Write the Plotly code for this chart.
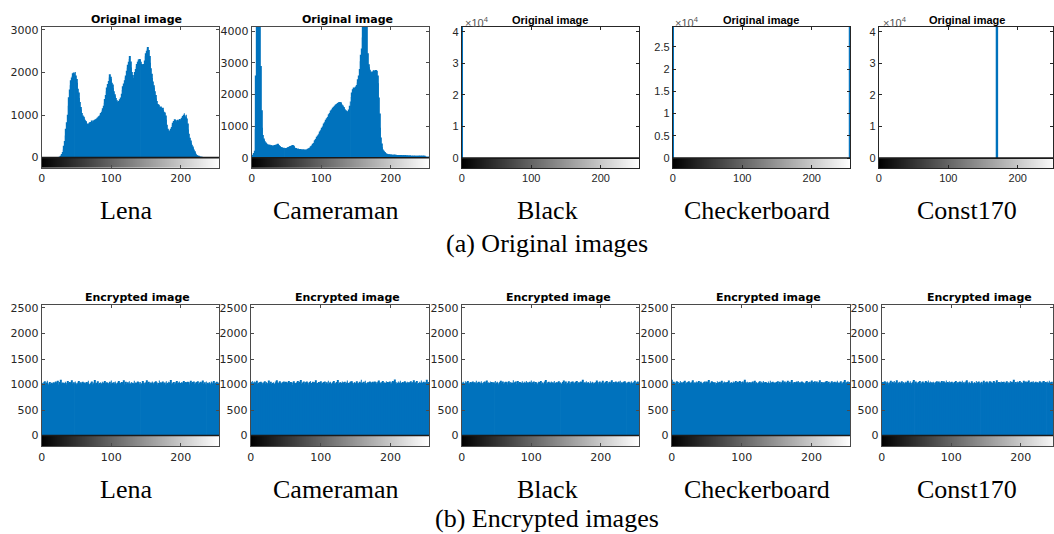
import plotly.graph_objects as go

# ---------------- data ----------------
gray_levels = list(range(256))
x_ticks = [0, 100, 200]

lena_counts = [
    0, 0, 0, 0, 0, 0, 0, 0, 0, 0, 0, 0, 0, 0, 0, 0,
    0, 0, 0, 0, 0, 0, 0, 0, 0, 5, 15, 30, 55, 85, 130, 190,
    280, 390, 520, 680, 830, 1010, 1220, 1420, 1600, 1700, 1820, 1880, 1920, 1980, 2000, 1970,
    2010, 1930, 1850, 1760, 1620, 1530, 1400, 1310, 1190, 1130, 1050, 990, 960, 920, 890, 860,
    840, 800, 790, 810, 780, 830, 800, 840, 870, 830, 880, 860, 890, 910, 880, 920,
    950, 930, 970, 990, 1020, 1050, 1080, 1120, 1160, 1220, 1290, 1380, 1470, 1560, 1650, 1730,
    1800, 1880, 1960, 1900, 1850, 1760, 1720, 1630, 1560, 1490, 1440, 1400, 1350, 1310, 1290, 1330,
    1370, 1320, 1410, 1500, 1590, 1680, 1740, 1820, 1880, 1930, 2040, 2110, 2180, 2250, 2320, 2390,
    2260, 2120, 2010, 1940, 1870, 1900, 2010, 2080, 2140, 2200, 2250, 2310, 2280, 2320, 2290, 2250,
    2200, 2180, 2150, 2200, 2280, 2380, 2450, 2510, 2560, 2600, 2530, 2390, 2230, 2100, 1970, 1870,
    1790, 1700, 1640, 1560, 1470, 1390, 1330, 1260, 1240, 1200, 1160, 1200, 1180, 1130, 1170, 1120,
    1080, 1060, 990, 890, 770, 680, 630, 640, 620, 650, 680, 720, 770, 820, 860, 900,
    870, 880, 850, 870, 890, 860, 880, 910, 880, 920, 940, 980, 1010, 1040, 990, 950,
    1010, 920, 800, 660, 560, 470, 400, 350, 300, 260, 220, 190, 150, 120, 90, 65,
    45, 30, 20, 12, 8, 4, 2, 0, 0, 0, 0, 0, 0, 0, 0, 0,
    0, 0, 0, 0, 0, 0, 0, 0, 0, 0, 0, 0, 0, 0, 0, 0,
]

cameraman_counts = [
    60, 90, 120, 150, 220, 900, 2600, 4600, 6800, 8200, 8900, 7600, 5200, 2900, 1500, 950,
    720, 610, 560, 520, 480, 460, 440, 420, 410, 400, 410, 390, 400, 380, 390, 370,
    390, 400, 380, 410, 420, 440, 430, 400, 370, 350, 340, 330, 320, 310, 320, 300,
    310, 300, 310, 320, 330, 340, 350, 360, 370, 380, 390, 400, 380, 350, 320, 310,
    300, 290, 280, 290, 280, 270, 275, 270, 260, 265, 255, 260, 250, 255, 250, 260,
    270, 285, 300, 320, 340, 360, 385, 410, 440, 470, 510, 550, 590, 620, 660, 700,
    740, 780, 830, 870, 910, 950, 990, 1030, 1080, 1120, 1160, 1200, 1250, 1290, 1330, 1370,
    1410, 1450, 1490, 1520, 1540, 1580, 1610, 1640, 1660, 1680, 1700, 1720, 1730, 1750, 1740, 1760,
    1750, 1720, 1680, 1650, 1600, 1560, 1530, 1500, 1480, 1470, 1460, 1470, 1520, 1640, 1780, 1920,
    2060, 2160, 2190, 2220, 2200, 2230, 2250, 2300, 2380, 2480, 2600, 2800, 3050, 3250, 3450, 3800,
    4300, 4900, 5400, 5800, 5900, 5200, 4300, 3300, 2950, 2860, 2780, 2720, 2700, 2680, 2720, 2750,
    2760, 2740, 2770, 2760, 2750, 2600, 2350, 1900, 1400, 950, 640, 450, 330, 260, 220, 180,
    160, 140, 130, 120, 115, 110, 105, 100, 100, 98, 96, 97, 95, 93, 94, 92,
    90, 91, 89, 88, 86, 87, 85, 84, 82, 83, 80, 79, 78, 77, 76, 75,
    74, 72, 70, 69, 68, 66, 65, 63, 62, 60, 58, 57, 55, 53, 52, 50,
    48, 46, 44, 42, 40, 38, 36, 34, 32, 30, 28, 26, 24, 22, 20, 18,
]

# sparse histograms (only non-empty bins)
black_levels = [0]
black_counts = [262144]
checker_levels = [0, 255]
checker_counts = [131072, 131072]
const_levels = [170]
const_counts = [262144]

enc_lena_counts = [
    1031, 1012, 1047, 998, 1063, 1021, 1005, 1039, 1076, 1018, 993, 1027, 1052, 1009, 1034, 1001,
    1015, 1044, 987, 1026, 1058, 1011, 1036, 1072, 1003, 1019, 1048, 1095, 1024, 1008, 1041, 996,
    1029, 1016, 1054, 1037, 1002, 1067, 1013, 1028, 1049, 991, 1035, 1084, 1020, 1006, 1043, 1017,
    1061, 1025, 999, 1038, 1014, 1070, 1033, 1004, 1046, 1022, 1010, 1057, 1030, 985, 1040, 1019,
    1008, 1050, 1026, 1073, 1011, 994, 1037, 1021, 1059, 1003, 1042, 1016, 1088, 1027, 1000, 1035,
    1018, 1064, 1007, 1031, 1045, 989, 1023, 1056, 1012, 1039, 1001, 1068, 1025, 1009, 1047, 1032,
    1004, 1028, 1053, 1015, 1079, 1020, 1036, 997, 1044, 1011, 1062, 1026, 1005, 1041, 1018, 1071,
    1033, 990, 1024, 1050, 1013, 1038, 1086, 1002, 1029, 1057, 1017, 1006, 1045, 1022, 1065, 1010,
    1027, 1048, 1003, 1035, 1019, 1074, 1012, 1040, 995, 1030, 1061, 1016, 1043, 1008, 1052, 1025,
    1014, 1069, 1021, 1037, 1001, 1046, 1028, 1083, 1009, 1034, 1055, 1018, 992, 1039, 1023, 1060,
    1036, 1007, 1051, 1024, 1066, 1013, 1042, 1000, 1031, 1077, 1019, 1045, 1004, 1029, 1058, 1015,
    1022, 1040, 996, 1063, 1017, 1032, 1054, 1010, 1047, 1026, 1091, 1006, 1035, 1020, 1049, 1003,
    1044, 1018, 1070, 1027, 1005, 1038, 1059, 1014, 1030, 988, 1046, 1023, 1067, 1011, 1033, 1052,
    1009, 1035, 1057, 1021, 1043, 1002, 1075, 1028, 1016, 1050, 1032, 1062, 1007, 1039, 1019, 1048,
    1030, 1066, 1012, 1041, 997, 1055, 1024, 1037, 1081, 1013, 1029, 1046, 1005, 1058, 1022, 1034,
    1017, 1049, 1026, 1003, 1060, 1038, 1011, 1044, 1071, 1020, 1036, 999, 1053, 1027, 1042, 1015,
]

enc_cameraman_counts = [
    1052, 1024, 1068, 1011, 1039, 1060, 1003, 1045, 1027, 1072, 1016, 1033, 1049, 1008, 1057, 1020,
    1036, 999, 1043, 1026, 1064, 1013, 1050, 1030, 1005, 1041, 1078, 1019, 1035, 1054, 1010, 1028,
    1047, 1021, 1007, 1059, 1032, 1085, 1015, 1040, 1023, 1002, 1066, 1037, 1012, 1048, 1029, 1061,
    1006, 1038, 1055, 1018, 1044, 1027, 1070, 1001, 1034, 1051, 1014, 1042, 993, 1025, 1063, 1031,
    1019, 1046, 1028, 1067, 1009, 1036, 1053, 1022, 1089, 1012, 1040, 1026, 1058, 1004, 1033, 1045,
    1060, 1015, 1037, 1002, 1049, 1071, 1024, 1031, 1010, 1056, 1039, 1018, 1045, 1083, 1023, 1006,
    1029, 1052, 1013, 1041, 1065, 1020, 998, 1036, 1050, 1027, 1062, 1011, 1034, 1047, 1016, 1074,
    1003, 1039, 1057, 1025, 1012, 1044, 1030, 1068, 1019, 1035, 1001, 1052, 1028, 1090, 1014, 1041,
    1048, 1021, 1034, 1061, 1007, 1043, 1026, 1054, 1017, 1038, 1079, 1009, 1032, 1046, 1022, 1058,
    1011, 1066, 1028, 1000, 1051, 1035, 1019, 1045, 1063, 1024, 1037, 1013, 1056, 1030, 1093, 1018,
    1040, 1026, 1053, 1015, 1072, 1031, 1005, 1047, 1022, 1038, 1060, 1016, 1044, 1029, 1003, 1055,
    1034, 1062, 1020, 1043, 1009, 1057, 1027, 1081, 1014, 1039, 1025, 1050, 1006, 1067, 1032, 1046,
    1018, 1037, 1064, 1024, 1048, 1002, 1035, 1059, 1021, 1044, 1012, 1070, 1028, 1053, 1097, 1026,
    1045, 1011, 1033, 1058, 1019, 1041, 1076, 1008, 1036, 1024, 1052, 1031, 1065, 1015, 1042, 1027,
    1057, 1022, 1046, 1004, 1038, 1063, 1029, 1050, 1013, 1086, 1034, 1020, 1047, 1025, 1069, 1010,
    1032, 1054, 1017, 1042, 1078, 1026, 1040, 1009, 1055, 1030, 1046, 1021, 1094, 1035, 1012, 1049,
]

enc_black_counts = [
    1041, 1019, 1055, 1032, 1008, 1064, 1026, 1047, 1013, 1070, 1022, 1038, 996, 1051, 1029, 1017,
    1060, 1034, 1010, 1045, 1027, 1073, 1004, 1039, 1056, 1021, 1042, 1015, 1066, 1030, 1002, 1048,
    1025, 1058, 1037, 1012, 1081, 1028, 1044, 1007, 1035, 1062, 1019, 1050, 1031, 990, 1046, 1023,
    1069, 1014, 1040, 1057, 1026, 1003, 1049, 1033, 1075, 1018, 1036, 1061, 1009, 1043, 1027, 1054,
    1020, 1047, 1001, 1036, 1065, 1024, 1052, 1011, 1039, 1028, 1084, 1016, 1045, 1032, 1059, 1006,
    1037, 1071, 1023, 1048, 1013, 1042, 1029, 1063, 997, 1034, 1055, 1021, 1040, 1068, 1017, 1046,
    1028, 1005, 1053, 1031, 1077, 1019, 1044, 1026, 1060, 1010, 1038, 1049, 1024, 1002, 1057, 1035,
    1050, 1022, 1067, 1012, 1041, 1033, 1006, 1058, 1029, 1087, 1015, 1043, 1026, 1054, 1031, 1018,
    1039, 1062, 1016, 1045, 1024, 1070, 1003, 1036, 1052, 1020, 1044, 1011, 1065, 1030, 1047, 1025,
    1013, 1049, 1033, 1080, 1021, 1040, 1058, 1008, 1035, 1026, 1063, 1017, 1046, 1000, 1053, 1038,
    1061, 1027, 1042, 1015, 1056, 1032, 1071, 1019, 1043, 1004, 1037, 1059, 1023, 1048, 1092, 1029,
    1007, 1045, 1024, 1064, 1018, 1039, 1051, 1030, 1012, 1066, 1034, 1020, 1055, 1041, 1009, 1036,
    1052, 1016, 1078, 1027, 1043, 1005, 1035, 1060, 1022, 1047, 1031, 1073, 1014, 1038, 1026, 1057,
    1033, 1068, 1021, 1044, 1010, 1054, 1029, 1040, 1085, 1018, 1036, 1050, 1025, 1003, 1062, 1042,
    1019, 1039, 1059, 1026, 1072, 1011, 1046, 1032, 1016, 1053, 1028, 1065, 1037, 1008, 1044, 1030,
    1055, 1024, 1041, 1006, 1063, 1035, 1020, 1049, 1027, 1074, 1014, 1043, 1031, 1058, 1022, 1038,
]

enc_checker_counts = [
    1092, 1036, 1018, 1054, 1027, 1041, 1003, 1063, 1025, 1048, 1012, 1035, 1070, 1020, 1044, 1031,
    1009, 1057, 1029, 1076, 1016, 1039, 1050, 1023, 1065, 1001, 1042, 1030, 1055, 1014, 1083, 1026,
    1047, 1021, 1038, 1060, 1008, 1045, 1032, 1071, 1019, 1037, 1053, 1028, 1006, 1049, 1024, 1062,
    1035, 1013, 1058, 1027, 1044, 1088, 1017, 1040, 1029, 1066, 1010, 1051, 1033, 1022, 1047, 999,
    1030, 1064, 1020, 1043, 1005, 1056, 1036, 1025, 1073, 1015, 1041, 1060, 1028, 1046, 1011, 1039,
    1052, 1026, 1081, 1018, 1037, 1049, 1007, 1034, 1058, 1023, 1045, 1002, 1067, 1031, 1054, 1019,
    1040, 1070, 1024, 1048, 1013, 1036, 1062, 1029, 1096, 1016, 1043, 1027, 1055, 1010, 1038, 1050,
    1021, 1045, 1033, 1006, 1061, 1027, 1040, 1075, 1018, 1052, 1030, 1009, 1047, 1035, 1064, 1024,
    1057, 1012, 1039, 1068, 1026, 1043, 1001, 1050, 1031, 1023, 1059, 1037, 1014, 1072, 1028, 1044,
    1019, 1053, 1030, 1041, 987, 1036, 1048, 1025, 1066, 1010, 1039, 1056, 1022, 1045, 1033, 1079,
    1034, 1008, 1062, 1027, 1050, 1017, 1073, 1029, 1041, 1055, 1015, 1037, 1090, 1024, 1046, 1012,
    1049, 1031, 1020, 1058, 1038, 1069, 1004, 1043, 1026, 1035, 1061, 1018, 1044, 1030, 1007, 1053,
    1025, 1067, 1036, 1014, 1047, 1029, 1056, 1021, 1078, 1039, 1011, 1050, 1033, 1063, 1020, 1042,
    1060, 1023, 1045, 1032, 1085, 1016, 1040, 1052, 1027, 1003, 1046, 1034, 1059, 1019, 1071, 1028,
    1038, 1054, 1009, 1042, 1026, 1064, 1031, 1048, 1013, 1057, 1035, 1022, 1043, 1076, 1017, 1041,
    1029, 1050, 1066, 1021, 1039, 1012, 1055, 1033, 1091, 1025, 1044, 1018, 1060, 1037, 1006, 1048,
]

enc_const_counts = [
    1023, 1051, 1008, 1040, 1066, 1029, 1045, 1014, 1059, 1033, 1002, 1047, 1026, 1072, 1018, 1037,
    1054, 1031, 1069, 1012, 1044, 1027, 1083, 1020, 1038, 1056, 1005, 1042, 1030, 1063, 1016, 1049,
    1035, 1010, 1057, 1028, 1046, 1075, 1019, 1041, 1024, 1064, 1032, 1001, 1053, 1037, 1089, 1015,
    1043, 1061, 1025, 1038, 1007, 1050, 1034, 1068, 1021, 1045, 1013, 1058, 1030, 1040, 1026, 1071,
    1017, 1048, 1033, 1081, 1024, 1039, 1060, 1011, 1044, 1027, 1055, 1036, 996, 1052, 1029, 1065,
    1041, 1022, 1058, 1030, 1047, 1015, 1070, 1026, 1036, 1063, 1009, 1045, 1032, 1077, 1020, 1050,
    1028, 1064, 1011, 1043, 1034, 1056, 1023, 1040, 1005, 1052, 1031, 1067, 1018, 1046, 1038, 1013,
    1060, 1035, 1049, 1020, 1073, 1027, 1044, 1016, 1058, 1033, 1086, 1024, 1041, 1006, 1055, 1030,
    1019, 1042, 1066, 1032, 1008, 1051, 1037, 1025, 1069, 1014, 1046, 1039, 1062, 1021, 1034, 1057,
    1045, 1003, 1036, 1074, 1026, 1048, 1017, 1059, 1031, 1040, 1022, 1065, 1010, 1053, 1028, 1042,
    1030, 1068, 1024, 1047, 1015, 1039, 1082, 1029, 1052, 1007, 1044, 1035, 1061, 1020, 1049, 1033,
    1056, 1018, 1041, 1031, 1063, 1025, 1046, 1002, 1038, 1071, 1027, 1054, 1013, 1040, 1096, 1022,
    1037, 1050, 1014, 1059, 1034, 1043, 1020, 1067, 1029, 1048, 1011, 1036, 1074, 1026, 1045, 1060,
    1012, 1039, 1057, 1023, 1080, 1032, 1047, 1018, 1053, 1035, 1064, 1004, 1042, 1028, 1056, 1030,
    1049, 1026, 1038, 1066, 1016, 1044, 1031, 1058, 1021, 1070, 1037, 1009, 1051, 1033, 1062, 1027,
    1041, 1073, 1019, 1046, 1030, 1055, 1008, 1043, 1035, 1061, 1024, 1088, 1032, 1048, 1014, 1039,
]

image_names = ["Lena", "Cameraman", "Black", "Checkerboard", "Const170"]
row_captions = ["(a) Original images", "(b) Encrypted images"]
panel_titles = ["Original image", "Encrypted image"]

for arr in [lena_counts, cameraman_counts, enc_lena_counts, enc_cameraman_counts,
            enc_black_counts, enc_checker_counts, enc_const_counts]:
    assert len(arr) == 256, len(arr)

# ---------------- layout helpers ----------------
W, H = 1054, 534
BLUE = "#0072BD"
DARK = "#262626"


def px(x):
    return x / W


def py(y):
    return 1 - y / H


DJ = "DejaVu Sans"
LS = "Liberation Sans"

panels = [
    # row 0
    dict(row=0, kind="bar", counts=lena_counts, xd=(38, 216), xr=(0, 255), yr=(-245, 3072),
         yt=[0, 1000, 2000, 3000], ytt=None, font=DJ, tx=133.5, exp=None),
    dict(row=0, kind="bar", counts=cameraman_counts, xd=(249, 427), xr=(0, 255), yr=(-325, 4132),
         yt=[0, 1000, 2000, 3000, 4000], ytt=None, font=DJ, tx=345, exp=None),
    dict(row=0, kind="stem", levels=black_levels, counts=black_counts, xd=(460, 638), xr=(0, 255),
         yr=(-3150, 41575), yt=[0, 10000, 20000, 30000, 40000], ytt=["0", "1", "2", "3", "4"],
         font=LS, tx=549, exp=461),
    dict(row=0, kind="stem", levels=checker_levels, counts=checker_counts, xd=(672, 850), xr=(0, 255),
         yr=(-2250, 29500), yt=[0, 5000, 10000, 15000, 20000, 25000],
         ytt=["0", "0.5", "1", "1.5", "2", "2.5"], font=LS, tx=761, exp=672),
    dict(row=0, kind="stem", levels=const_levels, counts=const_counts, xd=(879, 1054), xr=(0, 250.7),
         yr=(-3150, 41575), yt=[0, 10000, 20000, 30000, 40000], ytt=["0", "1", "2", "3", "4"],
         font=LS, tx=968, exp=881),
    # row 1
    dict(row=1, kind="bar", counts=enc_lena_counts, xd=(38, 216), xr=(0, 255), yr=(-214, 2553),
         yt=[0, 500, 1000, 1500, 2000, 2500], ytt=None, font=DJ, tx=134, exp=None),
    dict(row=1, kind="bar", counts=enc_cameraman_counts, xd=(248, 427), xr=(0, 255), yr=(-214, 2553),
         yt=[0, 500, 1000, 1500, 2000, 2500], ytt=None, font=DJ, tx=345.5, exp=None),
    dict(row=1, kind="bar", counts=enc_black_counts, xd=(460, 638), xr=(0, 255), yr=(-214, 2553),
         yt=[0, 500, 1000, 1500, 2000, 2500], ytt=None, font=DJ, tx=557, exp=None),
    dict(row=1, kind="bar", counts=enc_checker_counts, xd=(671, 850), xr=(0, 255), yr=(-214, 2553),
         yt=[0, 500, 1000, 1500, 2000, 2500], ytt=None, font=DJ, tx=768, exp=None),
    dict(row=1, kind="bar", counts=enc_const_counts, xd=(882, 1054), xr=(0, 246.4), yr=(-214, 2553),
         yt=[0, 500, 1000, 1500, 2000, 2500], ytt=None, font=DJ, tx=980, exp=None),
]

row_box = [(24, 166), (304, 446)]       # top / bottom pixel of each row's axes
title_y = [17, 296]
name_y = [209, 489]
caption_y = [242, 518]
name_x = [122.5, 333.5, 546, 757, 968]

fig = go.Figure()
layout = dict(
    width=W, height=H, autosize=False,
    margin=dict(l=0, r=0, t=0, b=0),
    paper_bgcolor="white", plot_bgcolor="white",
    showlegend=False,
)
annotations = []
shapes = []

for i, p in enumerate(panels, start=1):
    xa = "x" if i == 1 else f"x{i}"
    ya = "y" if i == 1 else f"y{i}"
    xkey = "xaxis" if i == 1 else f"xaxis{i}"
    ykey = "yaxis" if i == 1 else f"yaxis{i}"
    top, bot = row_box[p["row"]]
    lc = "#4a4a4a" if p["font"] == DJ else DARK
    lw = 1.2 if p["font"] == DJ else 1

    # gray-level strip under the histogram
    fig.add_trace(go.Heatmap(
        z=[gray_levels], x=gray_levels, y=[p["yr"][0], 0],
        colorscale=[[0, "#000000"], [1, "#ffffff"]], zmin=0, zmax=255,
        showscale=False, hoverinfo="skip", xaxis=xa, yaxis=ya,
    ))

    if p["kind"] == "bar":
        fig.add_trace(go.Bar(
            x=gray_levels, y=p["counts"], width=1,
            marker=dict(color=BLUE, line=dict(width=0)),
            xaxis=xa, yaxis=ya, hoverinfo="skip",
        ))
    else:
        xs, ys = [], []
        for lev, c in zip(p["levels"], p["counts"]):
            xs += [lev, lev, None]
            ys += [0, c, None]
        fig.add_trace(go.Scatter(
            x=xs, y=ys, mode="lines", line=dict(color=BLUE, width=2.4),
            xaxis=xa, yaxis=ya, hoverinfo="skip",
        ))

    tickfont = dict(family=p["font"], size=11, color=DARK)
    layout[xkey] = dict(
        domain=[px(p["xd"][0]), px(p["xd"][1])], range=list(p["xr"]), anchor=ya,
        tickvals=x_ticks, ticks="inside", ticklen=3, tickcolor=lc,
        showline=True, linecolor=lc, linewidth=lw, mirror="ticks",
        showgrid=False, zeroline=False, tickfont=tickfont, fixedrange=True,
    )
    ydict = dict(
        domain=[py(bot), py(top)], range=list(p["yr"]), anchor=xa,
        tickvals=p["yt"], ticks="inside", ticklen=3, tickcolor=lc,
        showline=True, linecolor=lc, linewidth=lw, mirror="ticks",
        showgrid=False, zeroline=False, tickfont=tickfont, fixedrange=True,
    )
    if p["ytt"] is not None:
        ydict["ticktext"] = p["ytt"]
    layout[ykey] = ydict

    # border line on top of the gray strip
    shapes.append(dict(type="line", xref=xa, yref=ya, x0=p["xr"][0], x1=p["xr"][1], y0=0, y1=0,
                       line=dict(color="#1a1a1a", width=1.6)))

    # panel title
    annotations.append(dict(
        x=px(p["tx"]), y=py(title_y[p["row"]]), xref="paper", yref="paper",
        text="<b>" + panel_titles[p["row"]] + "</b>", showarrow=False,
        xanchor="center", yanchor="middle",
        font=dict(family=p["font"], size=11, color="#000000"),
    ))

    if p["exp"] is not None:
        annotations.append(dict(
            x=px(p["exp"]), y=py(19), xref="paper", yref="paper",
            text="×10<sup>4</sup>", showarrow=False, xanchor="left", yanchor="middle",
            font=dict(family=LS, size=11, color="#555555"),
        ))

# image names and row captions
serif = dict(family="Liberation Serif", size=26, color="#000000")
for r in range(2):
    for j, name in enumerate(image_names):
        annotations.append(dict(
            x=px(name_x[j]), y=py(name_y[r]), xref="paper", yref="paper",
            text=name, showarrow=False, xanchor="center", yanchor="middle", font=serif,
        ))
    annotations.append(dict(
        x=px(546), y=py(caption_y[r]), xref="paper", yref="paper",
        text=row_captions[r], showarrow=False, xanchor="center", yanchor="middle", font=serif,
    ))

layout["annotations"] = annotations
layout["shapes"] = shapes
fig.update_layout(**layout)
fig.write_html(
    "out.html",
    config={"displayModeBar": False},
    post_script="document.body.style.margin='0px';document.body.style.overflow='hidden';",
)
